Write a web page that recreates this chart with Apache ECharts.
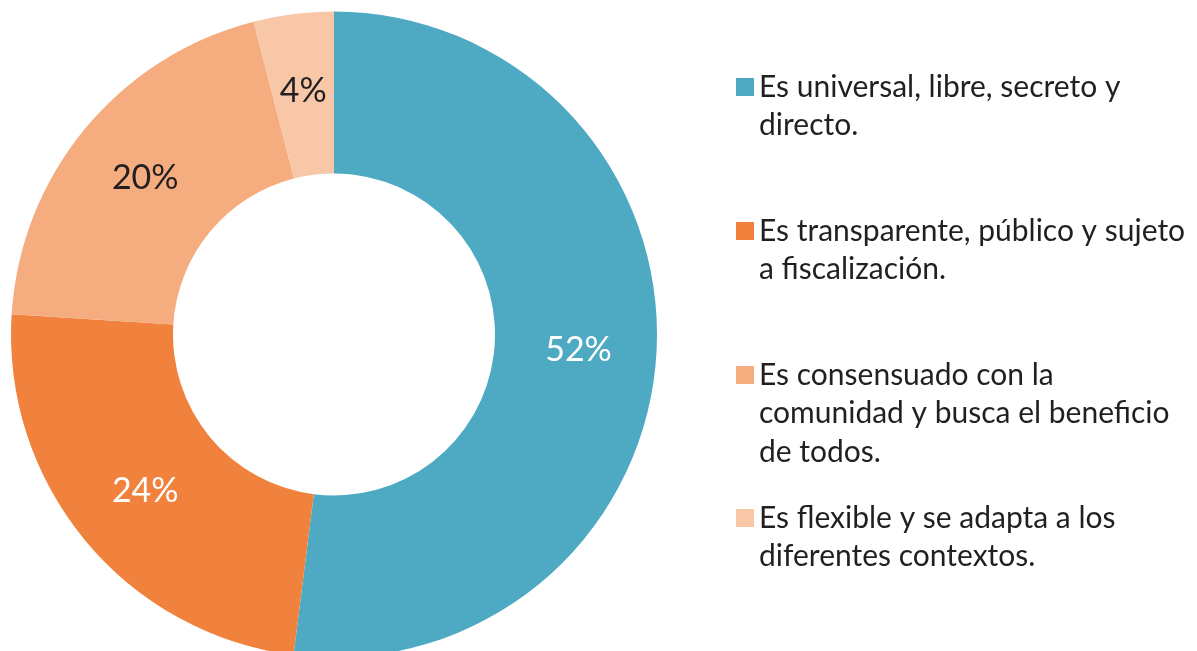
<!DOCTYPE html>
<html lang="es">
<head>
  <meta charset="UTF-8">
  <title>Donut</title>
  <script src="https://cdn.jsdelivr.net/npm/echarts@6/dist/echarts.min.js"></script>
  <style>
    html, body { margin: 0; padding: 0; background: #fff; }
    #chart { width: 1197px; height: 651px; }
  </style>
</head>
<body>
<div id="chart"></div>
<script>
  // datos
  var categorias = [
    "Es universal, libre, secreto y\ndirecto.",
    "Es transparente, público y sujeto\na fiscalización.",
    "Es consensuado con la\ncomunidad y busca el beneficio\nde todos.",
    "Es flexible y se adapta a los\ndiferentes contextos."
  ];
  var valores = [52, 24, 20, 4];
  var colores = ["#4ea9c3", "#f0823e", "#f5ad7f", "#f8c7a7"];
  var colorEtiqueta = ["#ffffff", "#ffffff", "#231f20", "#231f20"];

  var fuente = "Lato";
  var alturaLinea = 38.5;
  var centroIcono = [87, 231, 375, 518];

  // una leyenda por item, para que el cuadrado quede en la primera linea
  var leyendas = categorias.map(function (nombre, i) {
    var k = nombre.split("\n").length;
    var alto = (2 * k - 1) * alturaLinea;
    return {
      orient: "vertical",
      left: 736,
      top: centroIcono[i] - alto / 2,
      padding: 0,
      itemWidth: 18,
      itemHeight: 18,
      itemGap: 8,
      icon: "rect",
      selectedMode: false,
      data: [nombre],
      formatter: function (n) {
        var pre = "";
        for (var j = 1; j < n.split("\n").length; j++) pre += "\n";
        return pre + n;
      },
      textStyle: {
        fontFamily: fuente,
        fontSize: 30,
        color: "#231f20",
        lineHeight: alturaLinea
      }
    };
  });

  var datos = categorias.map(function (nombre, i) {
    return {
      name: nombre,
      value: valores[i],
      itemStyle: { color: colores[i] },
      label: { color: colorEtiqueta[i] }
    };
  });

  var chart = echarts.init(document.getElementById("chart"));
  chart.setOption({
    animation: false,
    legend: leyendas,
    series: [{
      type: "pie",
      center: [334, 334.5],
      radius: [161, 323],
      startAngle: 90,
      clockwise: true,
      avoidLabelOverlap: false,
      itemStyle: { borderWidth: 0 },
      emphasis: { disabled: true },
      label: {
        show: true,
        position: "inside",
        formatter: "{c}%",
        fontFamily: fuente,
        fontSize: 34
      },
      labelLine: { show: false },
      data: datos
    }]
  });
</script>
</body>
</html>
